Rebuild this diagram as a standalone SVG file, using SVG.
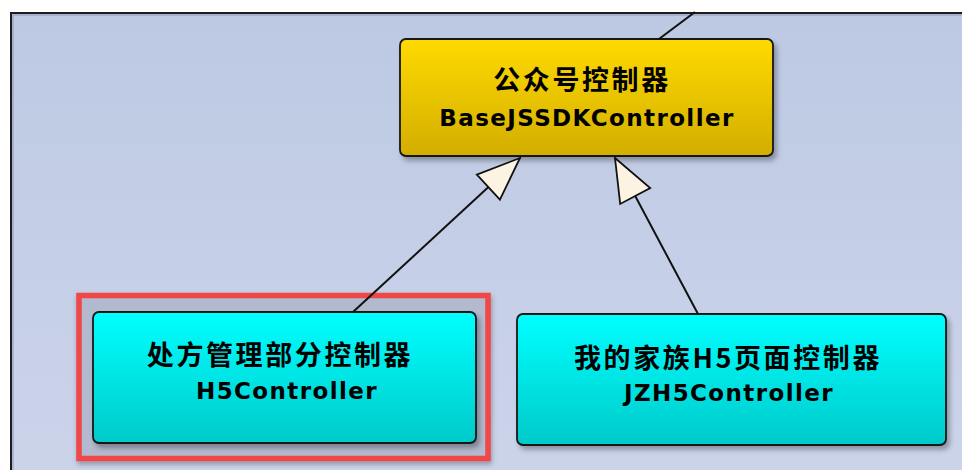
<svg xmlns="http://www.w3.org/2000/svg" width="962" height="470" viewBox="0 0 962 470">
  <defs>
    <linearGradient id="panelGrad" x1="0" y1="0" x2="0" y2="1">
      <stop offset="0" stop-color="#BDC9E3"/>
      <stop offset="1" stop-color="#CCD4EA"/>
    </linearGradient>
    <linearGradient id="goldGrad" x1="0" y1="0" x2="0" y2="1">
      <stop offset="0" stop-color="#FFDA00"/>
      <stop offset="1" stop-color="#D2AE00"/>
    </linearGradient>
    <linearGradient id="cyanGrad" x1="0" y1="0" x2="0" y2="1">
      <stop offset="0" stop-color="#00FFFF"/>
      <stop offset="1" stop-color="#00CACA"/>
    </linearGradient>
    <filter id="shadow" x="-10%" y="-10%" width="125%" height="130%">
      <feDropShadow dx="3" dy="4" stdDeviation="2.5" flood-color="#000" flood-opacity="0.3"/>
    </filter>
    <filter id="redShadow" x="-10%" y="-10%" width="125%" height="130%">
      <feDropShadow dx="1" dy="3" stdDeviation="2.5" flood-color="#000" flood-opacity="0.3"/>
    </filter>
    <marker id="tri" markerUnits="userSpaceOnUse" markerWidth="50" markerHeight="40" viewBox="-46 -20 50 40" refX="0" refY="0" orient="auto">
      <path d="M0,0 L-43,-17 L-43,17 Z" fill="#FDF3E3" stroke="#111" stroke-width="1.8" stroke-linejoin="miter"/>
    </marker>
    <style>
      .node { stroke: #161616; stroke-width: 1.8; }
      .cjk { font-family: "Noto Sans CJK SC", "Noto Sans", sans-serif; font-weight: bold; font-size: 27px; letter-spacing: 2.6px; fill: #000; text-anchor: middle; }
      .en { font-family: "DejaVu Sans", "Liberation Sans", sans-serif; font-weight: bold; font-size: 23px; letter-spacing: 1.4px; fill: #000; text-anchor: middle; }
      .conn { stroke: #111; stroke-width: 2; fill: none; }
    </style>
  </defs>

  <rect x="0" y="0" width="962" height="470" fill="#FFFFFF"/>
  <g id="panel">
    <rect x="10" y="12" width="960" height="470" fill="url(#panelGrad)"/>
    <path d="M11,480 L11,13 L970,13" fill="none" stroke="#1E1A1E" stroke-width="2"/>
    <path d="M13,480 L13,15 L970,15" fill="none" stroke="#8E97B4" stroke-width="1"/>
  </g>

  <g id="highlight">
    <rect x="79" y="295.5" width="409" height="163" fill="#B3B9CE" stroke="#F04646" stroke-width="5.5" filter="url(#redShadow)"/>
  </g>

  <g id="node-base">
    <rect class="node" x="400" y="39" width="373" height="117" rx="6" fill="url(#goldGrad)" filter="url(#shadow)"/>
    <text class="cjk" x="582" y="90">公众号控制器</text>
    <text class="en" x="587" y="126">BaseJSSDKController</text>
  </g>

  <g id="node-h5">
    <rect class="node" x="93" y="312" width="383" height="131" rx="6" fill="url(#cyanGrad)" filter="url(#shadow)"/>
    <text class="cjk" x="280" y="365">处方管理部分控制器</text>
    <text class="en" x="287" y="399">H5Controller</text>
  </g>

  <g id="node-jzh5">
    <rect class="node" x="517" y="314" width="429" height="131" rx="6" fill="url(#cyanGrad)" filter="url(#shadow)"/>
    <text class="cjk" x="728" y="368">我的家族H5页面控制器</text>
    <text class="en" x="729" y="401">JZH5Controller</text>
  </g>

  <g id="connectors">
    <line class="conn" x1="659" y1="39" x2="695" y2="12"/>
    <line class="conn" x1="353" y1="312" x2="520" y2="158" marker-end="url(#tri)"/>
    <line class="conn" x1="698" y1="314" x2="615" y2="158" marker-end="url(#tri)"/>
  </g>
</svg>
